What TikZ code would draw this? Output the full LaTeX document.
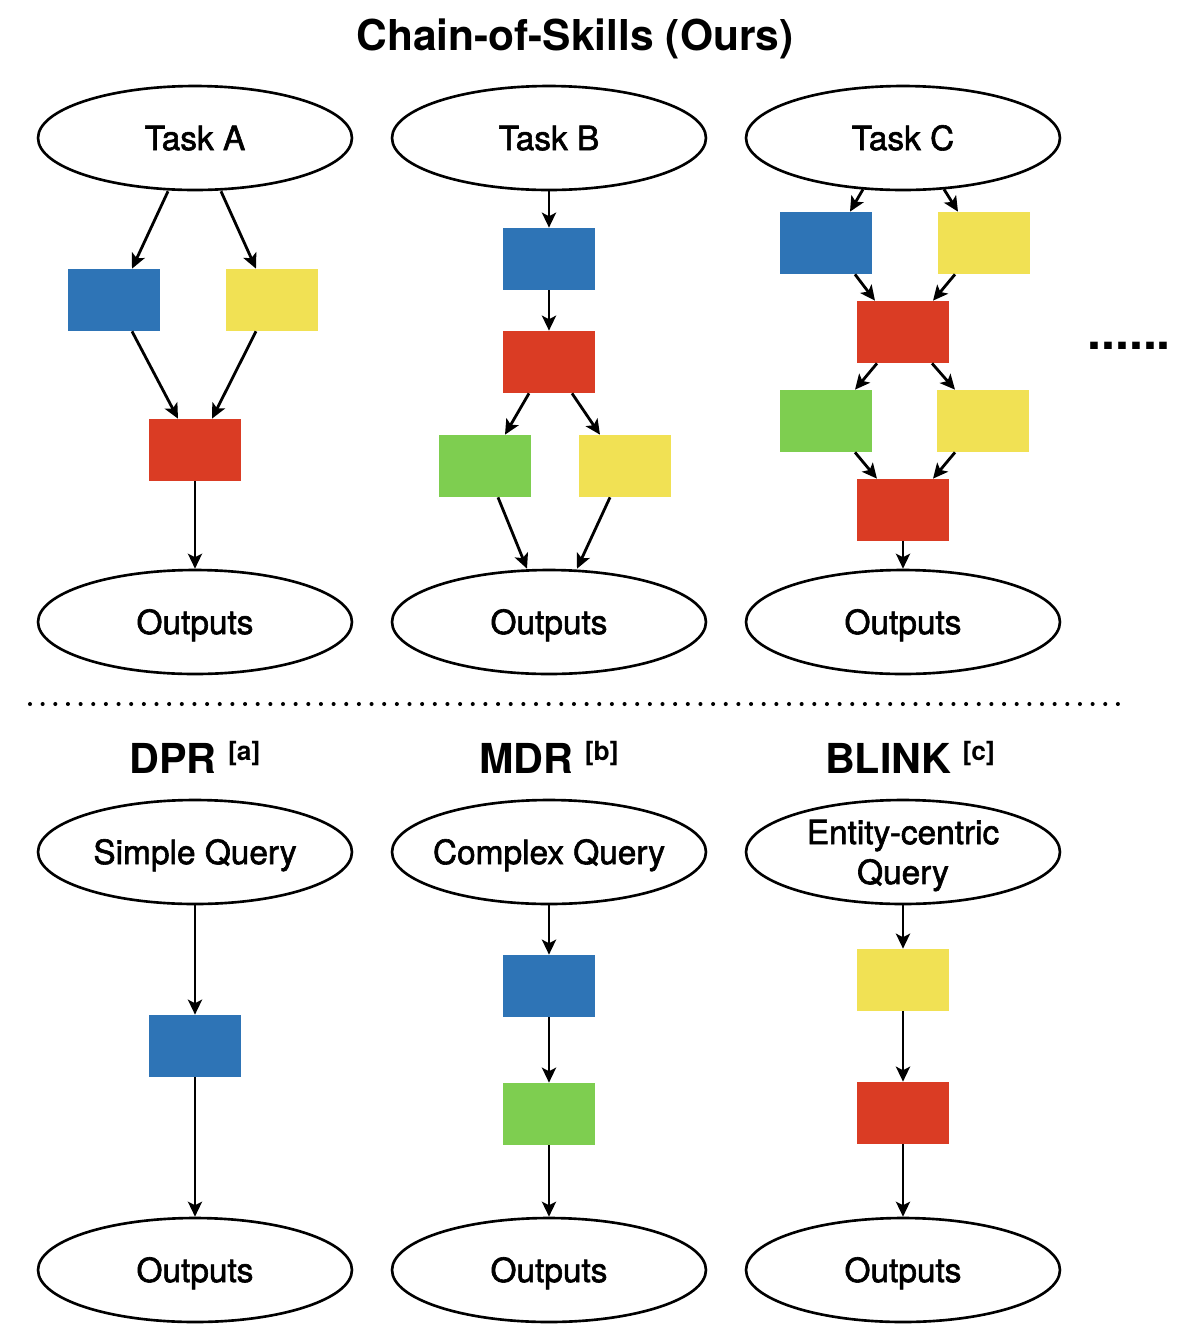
\documentclass[tikz,border=0pt]{standalone}
\usepackage{fontspec}
\setmainfont{TeX Gyre Heros}
\newfontfamily\taskfont[FakeBold=1.8]{TeX Gyre Heros}
\usetikzlibrary{arrows.meta,calc,shapes.geometric}

\definecolor{skillblue}{RGB}{46,116,182}
\definecolor{skillyellow}{RGB}{241,225,84}
\definecolor{skillred}{RGB}{218,60,36}
\definecolor{skillgreen}{RGB}{126,206,80}

\newcommand\refmark[1]{\raisebox{7pt}{\fontsize{15}{18}\selectfont #1}}

\tikzset{
	task/.style={draw, ellipse, line width=1.5pt, minimum width=6.28cm, minimum height=2.08cm, inner sep=0pt},
	tasktext/.style={inner sep=0pt, font=\taskfont\fontsize{19}{22.7}\selectfont, text height=13.7pt, text depth=0pt},
	skill/.style={minimum width=1.86cm, minimum height=1.24cm, inner sep=0pt},
	link/.style={line width=1.6pt, -{Stealth[length=8.5pt,width=8pt,inset=2pt]}},
	heading/.style={anchor=base, inner sep=0pt, font=\fontsize{23.5}{28}\selectfont\bfseries},
}

\begin{document}
\begin{tikzpicture}[x=0.02cm, y=-0.02cm]
		\useasboundingbox (0,0) rectangle (1178,1340);
		
		%%%%% CHAIN-OF-SKILLS %%%%%
		
		\node[heading, font=\fontsize{24.2}{29}\selectfont\bfseries] (title) at (575,50) {Chain-of-Skills (Ours)};
		
		\node[task, label={[tasktext]center:Task A}] (taskA) at (195,138) {};
		\node[task, label={[tasktext]center:Task B}] (taskB) at (549,138) {};
		\node[task, label={[tasktext]center:Task C}] (taskC) at (903,138) {};
		\node[task, label={[tasktext]center:Outputs}] (outA) at (195,622) {};
		\node[task, label={[tasktext]center:Outputs}] (outB) at (549,622) {};
		\node[task, label={[tasktext]center:Outputs}] (outC) at (903,622) {};
		
		\node[skill, fill=skillblue] (blueA) at (114,300) {};
		\node[skill, fill=skillyellow] (yellowA) at (272,300) {};
		\node[skill, fill=skillred] (redA) at (195,450) {};
		
		\node[skill, fill=skillblue] (blueB) at (549,259) {};
		\node[skill, fill=skillred] (redB) at (549,362) {};
		\node[skill, fill=skillgreen] (greenB) at (485,466) {};
		\node[skill, fill=skillyellow] (yellowB) at (625,466) {};
		
		\node[skill, fill=skillblue] (blueC) at (826,243) {};
		\node[skill, fill=skillyellow] (yellowC) at (984,243) {};
		\node[skill, fill=skillred] (redC) at (903,332) {};
		\node[skill, fill=skillgreen] (greenC) at (826,421) {};
		\node[skill, fill=skillyellow] (yellowCC) at (983,421) {};
		\node[skill, fill=skillred] (redCC) at (903,510) {};
		
		\draw[link] ($(taskA.south)+(-27,0)$) -- ($(blueA.north)+(18,0)$);
		\draw[link] ($(taskA.south)+(26,0)$) -- ($(yellowA.north)+(-16,0)$);
		\draw[link] ($(blueA.south)+(18,0)$) -- ($(redA.north)+(-17,0)$);
		\draw[link] ($(yellowA.south)+(-16,0)$) -- ($(redA.north)+(17,0)$);
		\draw[link] (redA) -- (outA);
		
		\draw[link] (taskB) -- (blueB);
		\draw[link] (blueB) -- (redB);
		\draw[link] ($(redB.south)+(-20,0)$) -- ($(greenB.north)+(20,0)$);
		\draw[link] ($(redB.south)+(23,0)$) -- ($(yellowB.north)+(-25,0)$);
		\draw[link] ($(greenB.south)+(13,0)$) -- ($(outB.north)+(-22,0)$);
		\draw[link] ($(yellowB.south)+(-15,0)$) -- ($(outB.north)+(28,0)$);
		
		\draw[link] ($(taskC.south)+(-40,-2)$) -- ($(blueC.north)+(24,0)$);
		\draw[link] ($(taskC.south)+(41,-2)$) -- ($(yellowC.north)+(-26,0)$);
		\draw[link] ($(blueC.south)+(29,0)$) -- ($(redC.north)+(-28,0)$);
		\draw[link] ($(yellowC.south)+(-29,0)$) -- ($(redC.north)+(30,0)$);
		\draw[link] ($(redC.south)+(-26,0)$) -- ($(greenC.north)+(29,0)$);
		\draw[link] ($(redC.south)+(29,0)$) -- ($(yellowCC.north)+(-28,0)$);
		\draw[link] ($(greenC.south)+(29,0)$) -- ($(redCC.north)+(-26,0)$);
		\draw[link] ($(yellowCC.south)+(-28,0)$) -- ($(redCC.north)+(30,0)$);
		\draw[link] (redCC) -- (outC);
		
		\node[anchor=base west, inner sep=0pt, font=\fontsize{28.5}{30}\selectfont\bfseries] (more) at (1087,349) {......};
		
		\draw[line width=2.3pt, line cap=round, dash pattern=on 0pt off 7.2pt] (30,704) -- (1127,704);
		
		%%%%% BASELINES %%%%%
		
		\node[heading] (dpr) at (195,773) {DPR \refmark{[a]}};
		\node[heading] (mdr) at (549,773) {MDR \refmark{[b]}};
		\node[heading] (blink) at (910,773) {BLINK \refmark{[c]}};
		
		\node[task, label={[tasktext]center:Simple Query}] (simple) at (195,852) {};
		\node[task, label={[tasktext]center:Complex Query}] (complex) at (549,852) {};
		\node[task, label={[tasktext, align=center, text height=36.4pt]center:{Entity-centric\\Query}}] (entity) at (903,852) {};
		\node[task, label={[tasktext]center:Outputs}] (outD) at (195,1270) {};
		\node[task, label={[tasktext]center:Outputs}] (outE) at (549,1270) {};
		\node[task, label={[tasktext]center:Outputs}] (outF) at (903,1270) {};
		
		\node[skill, fill=skillblue] (blueD) at (195,1046) {};
		\node[skill, fill=skillblue] (blueE) at (549,986) {};
		\node[skill, fill=skillgreen] (greenE) at (549,1114) {};
		\node[skill, fill=skillyellow] (yellowF) at (903,980) {};
		\node[skill, fill=skillred] (redF) at (903,1113) {};
		
		\draw[link] (simple) -- (blueD);
		\draw[link] (blueD) -- (outD);
		\draw[link] (complex) -- (blueE);
		\draw[link] (blueE) -- (greenE);
		\draw[link] (greenE) -- (outE);
		\draw[link] (entity) -- (yellowF);
		\draw[link] (yellowF) -- (redF);
		\draw[link] (redF) -- (outF);
		
\end{tikzpicture}
\end{document}
